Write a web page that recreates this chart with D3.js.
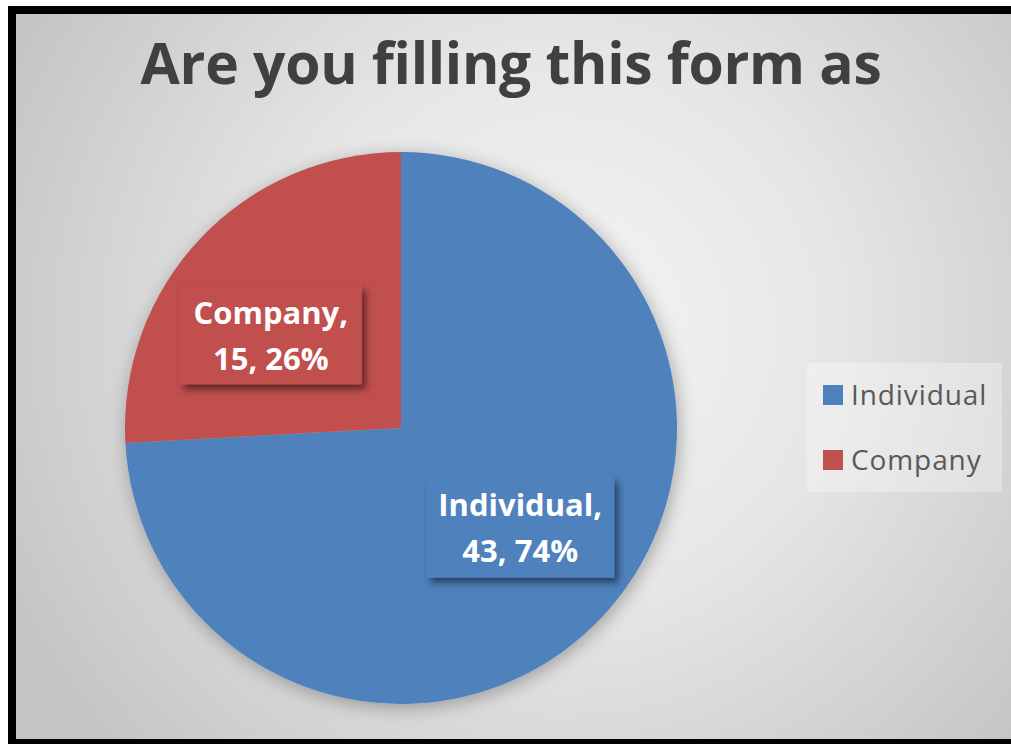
<!DOCTYPE html>
<html>
<head>
<meta charset="utf-8">
<script src="https://cdn.jsdelivr.net/npm/d3@7"></script>
<style>
  html, body { margin: 0; padding: 0; background: #ffffff; }
  svg { display: block; }
</style>
</head>
<body>
<svg id="chart" width="1011" height="744"></svg>
<script>
// Survey answers: who filled in the form
const categories = ["Individual", "Company"];
const counts = [43, 15];
const colors = ["#4F81BD", "#C0504D"];
const title = "Are you filling this form as";

const W = 1011, H = 744;
const svg = d3.select("#chart");
const defs = svg.append("defs");

// Chart-area background: soft radial gradient
const grad = defs.append("radialGradient")
  .attr("id", "bg").attr("gradientUnits", "userSpaceOnUse")
  .attr("cx", 560).attr("cy", 330).attr("r", 620);
grad.append("stop").attr("offset", "0%").attr("stop-color", "#f5f5f5");
grad.append("stop").attr("offset", "45%").attr("stop-color", "#e6e6e6");
grad.append("stop").attr("offset", "100%").attr("stop-color", "#c4c4c4");

// Soft halo under the pie
const pieShadow = defs.append("filter").attr("id", "pieShadow")
  .attr("x", "-20%").attr("y", "-20%").attr("width", "140%").attr("height", "140%");
pieShadow.append("feDropShadow").attr("dx", 2).attr("dy", 4)
  .attr("stdDeviation", 9).attr("flood-color", "#000").attr("flood-opacity", 0.3);

// Drop shadow for the data-label boxes
const boxShadow = defs.append("filter").attr("id", "boxShadow")
  .attr("x", "-20%").attr("y", "-20%").attr("width", "140%").attr("height", "150%");
boxShadow.append("feDropShadow").attr("dx", 4).attr("dy", 5)
  .attr("stdDeviation", 3.5).attr("flood-color", "#000").attr("flood-opacity", 0.5);

// Frame
svg.append("rect").attr("x", 8).attr("y", 6).attr("width", W).attr("height", H)
  .attr("fill", "#000");
svg.append("rect").attr("x", 16).attr("y", 14).attr("width", W).attr("height", 725)
  .attr("fill", "url(#bg)");

// Title
svg.append("text")
  .attr("x", 511).attr("y", 84)
  .attr("text-anchor", "middle")
  .attr("font-family", "'Open Sans', sans-serif")
  .attr("font-weight", 700)
  .attr("font-size", 57)
  .attr("letter-spacing", -0.3)
  .attr("fill", "#404040")
  .text(title);

// Pie
const cx = 401, cy = 428, R = 276;
const total = d3.sum(counts);
const data = categories.map((c, i) => ({ name: c, value: counts[i], color: colors[i] }));
const pie = d3.pie().value(d => d.value).sort(null);
const arcs = pie(data);
const arc = d3.arc().innerRadius(0).outerRadius(R);
const labelArc = d3.arc().innerRadius(R * 0.57).outerRadius(R * 0.57);
// best-fit adjustment of each label box away from its centroid
const labelShift = [[5, -9], [-16, 15]];
const boxSize = [[188, 101], [182, 99]];

const g = svg.append("g").attr("transform", `translate(${cx},${cy})`);
g.append("g").attr("filter", "url(#pieShadow)")
  .selectAll("path").data(arcs).join("path")
  .attr("d", arc)
  .attr("fill", d => d.data.color);

// Data labels: name, count, percentage
const fmtPct = d3.format(".0%");
const labels = g.selectAll("g.label").data(arcs).join("g")
  .attr("class", "label")
  .attr("transform", d => {
    const [x, y] = labelArc.centroid(d);
    const [sx, sy] = labelShift[d.index];
    return `translate(${x + sx},${y + sy})`;
  });

labels.each(function(d) {
  const sel = d3.select(this);
  const lines = [d.data.name + ",", `${d.data.value}, ${fmtPct(d.data.value / total)}`];
  const [boxW, boxH] = boxSize[d.index];
  sel.append("rect")
    .attr("x", -boxW / 2).attr("y", -boxH / 2)
    .attr("width", boxW).attr("height", boxH)
    .attr("fill", d.data.color)
    .attr("filter", "url(#boxShadow)");
  sel.append("text")
    .attr("text-anchor", "middle")
    .attr("font-family", "'Open Sans', sans-serif")
    .attr("font-weight", 700)
    .attr("font-size", 31)
    .attr("fill", "#ffffff")
    .selectAll("tspan").data(lines).join("tspan")
    .attr("x", 0)
    .attr("y", (t, i) => -11 + i * 46)
    .text(t => t);
});

// Legend
const legend = svg.append("g").attr("transform", "translate(807,363)");
legend.append("rect").attr("width", 195).attr("height", 129)
  .attr("fill", "#ffffff").attr("fill-opacity", 0.3);
const items = legend.selectAll("g.item").data(data).join("g")
  .attr("class", "item")
  .attr("transform", (d, i) => `translate(16,${22 + i * 65})`);
items.append("rect").attr("width", 20).attr("height", 20)
  .attr("fill", d => d.color);
items.append("text")
  .attr("x", 28).attr("y", 20)
  .attr("font-family", "'Open Sans', sans-serif")
  .attr("font-size", 28)
  .attr("letter-spacing", 0.9)
  .attr("fill", "#595959")
  .text(d => d.name);
</script>
</body>
</html>
